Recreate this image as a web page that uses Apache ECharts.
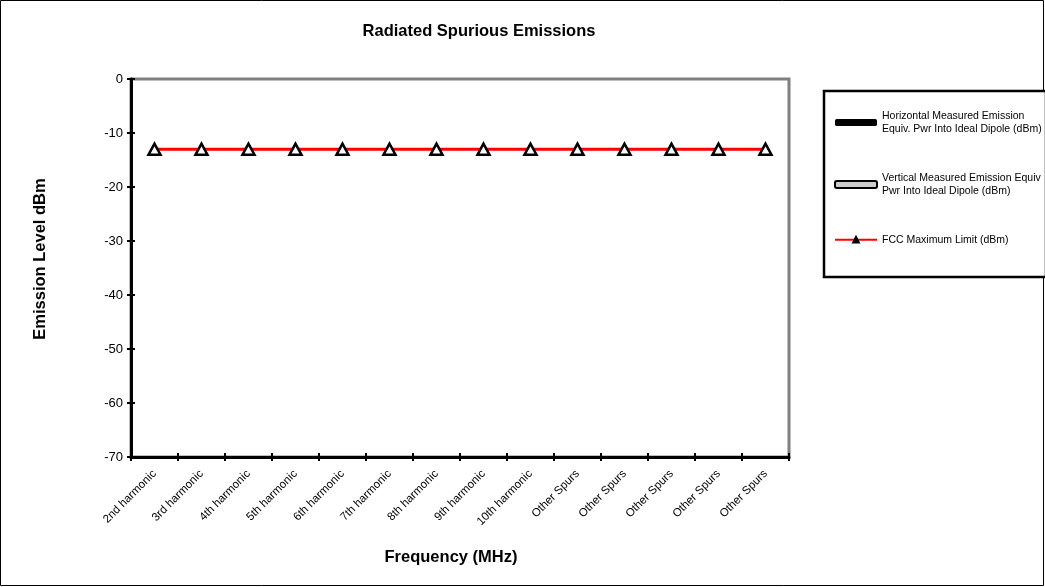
<!DOCTYPE html>
<html>
<head>
<meta charset="utf-8">
<script src="https://cdn.jsdelivr.net/npm/echarts@6/dist/echarts.min.js"></script>
<style>
  html, body { margin: 0; padding: 0; background: #fff; }
  #chart { width: 1045px; height: 587px; }
</style>
</head>
<body>
<div id="chart"></div>
<script>
const categories = [
  '2nd harmonic', '3rd harmonic', '4th harmonic', '5th harmonic', '6th harmonic',
  '7th harmonic', '8th harmonic', '9th harmonic', '10th harmonic',
  'Other Spurs', 'Other Spurs', 'Other Spurs', 'Other Spurs', 'Other Spurs'
]
// no measured points are plotted in the reference
const horizontalEmission = []
const verticalEmission = []
const fccLimit = [-13, -13, -13, -13, -13, -13, -13, -13, -13, -13, -13, -13, -13, -13]

const yMin = -70
const yMax = 0
const yStep = 10

const nameH = 'Horizontal Measured Emission\nEquiv. Pwr Into Ideal Dipole (dBm)'
const nameV = 'Vertical Measured Emission Equiv\nPwr Into Ideal Dipole (dBm)'
const nameF = 'FCC Maximum Limit (dBm)'

const font = '"Liberation Sans", Arial, sans-serif'
const boldName = { fontFamily: font, fontSize: 16.5, fontWeight: 'bold', color: '#000' }

const chart = echarts.init(document.getElementById('chart'), null, { renderer: 'canvas' })

chart.setOption({
  animation: false,
  backgroundColor: '#fff',
  textStyle: { fontFamily: font, color: '#000' },
  title: {
    text: 'Radiated Spurious Emissions',
    left: 479,
    top: 23,
    padding: 0,
    textAlign: 'center',
    textStyle: boldName
  },
  graphic: [
    {
      type: 'rect',
      shape: { x: 0.5, y: 0.5, width: 1043, height: 585 },
      style: { fill: 'none', stroke: '#000', lineWidth: 1 },
      silent: true
    },
    {
      type: 'rect',
      shape: { x: 824, y: 91, width: 222, height: 186 },
      style: { fill: '#fff', stroke: '#000', lineWidth: 2.5 },
      silent: true,
      z: 0
    }
  ],
  legend: {
    orient: 'vertical',
    left: 834,
    top: 109,
    padding: 0,
    itemWidth: 42,
    itemHeight: 7,
    itemGap: 35,
    z: 10,
    textStyle: { fontFamily: font, fontSize: 10.5, color: '#000', lineHeight: 13.5 },
    data: [
      { name: nameH, icon: 'roundRect', itemStyle: { color: '#000', borderWidth: 0 } },
      { name: nameV, icon: 'roundRect', itemStyle: { color: '#ccc', borderColor: '#000', borderWidth: 2 } },
      { name: nameF, itemStyle: { color: '#000', borderColor: '#000' } }
    ]
  },
  grid: {
    left: 131,
    top: 79,
    width: 658,
    height: 378,
    show: true,
    borderColor: '#808080',
    borderWidth: 3,
    backgroundColor: '#fff'
  },
  xAxis: [
    {
      type: 'category',
      data: categories,
      boundaryGap: true,
      name: 'Frequency (MHz)',
      nameLocation: 'middle',
      nameGap: 92,
      nameTextStyle: Object.assign({ padding: [0, 18, 0, 0] }, boldName),
      axisLine: { onZero: false, lineStyle: { color: '#000', width: 3 } },
      axisTick: { show: true, interval: 0, alignWithLabel: false, length: 4, lineStyle: { color: '#000', width: 2 } },
      axisLabel: { interval: 0, rotate: 45, fontSize: 11.5, color: '#000', margin: 15 },
      splitLine: { show: false }
    },
    {
      // inner half of the crossing tick marks
      type: 'category',
      data: categories,
      position: 'bottom',
      boundaryGap: true,
      axisLine: { show: false, onZero: false },
      axisTick: { show: true, interval: 0, inside: true, length: 4, lineStyle: { color: '#000', width: 2 } },
      axisLabel: { show: false, interval: 0 },
      splitLine: { show: false }
    }
  ],
  yAxis: [
    {
      type: 'value',
      min: yMin,
      max: yMax,
      interval: yStep,
      name: 'Emission Level dBm',
      nameLocation: 'middle',
      nameGap: 82,
      nameTextStyle: Object.assign({ padding: [0, 0, 0, 18] }, boldName),
      axisLine: { show: true, lineStyle: { color: '#000', width: 3 } },
      axisTick: { show: true, length: 4, lineStyle: { color: '#000', width: 2 } },
      axisLabel: { fontSize: 13, color: '#000', margin: 8 },
      splitLine: { show: false }
    },
    {
      type: 'value',
      min: yMin,
      max: yMax,
      interval: yStep,
      position: 'left',
      axisLine: { show: false },
      axisTick: { show: true, inside: true, length: 4, lineStyle: { color: '#000', width: 2 } },
      axisLabel: { show: false },
      splitLine: { show: false }
    }
  ],
  series: [
    {
      name: nameH,
      type: 'line',
      data: horizontalEmission,
      lineStyle: { color: '#000', width: 5 },
      itemStyle: { color: '#000' }
    },
    {
      name: nameV,
      type: 'line',
      data: verticalEmission,
      lineStyle: { color: '#000', width: 5 },
      itemStyle: { color: '#fff', borderColor: '#000' }
    },
    {
      name: nameF,
      type: 'line',
      data: fccLimit,
      symbol: 'triangle',
      symbolSize: [12, 11],
      showAllSymbol: true,
      lineStyle: { color: '#ff0000', width: 3 },
      itemStyle: { color: '#fff', borderColor: '#000', borderWidth: 2.5 },
      z: 5
    }
  ]
})
</script>
</body>
</html>
